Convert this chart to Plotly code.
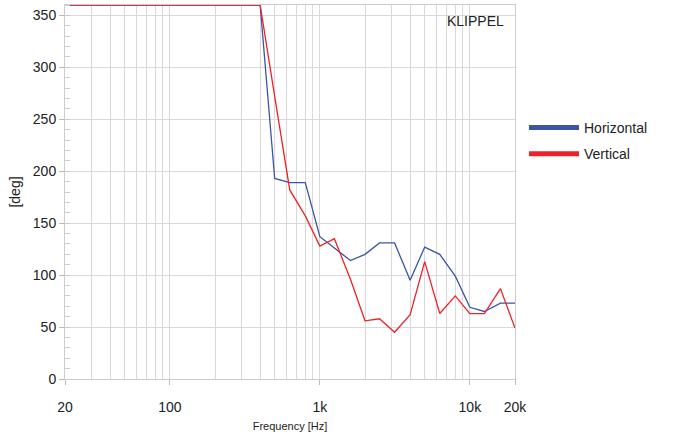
import plotly.graph_objects as go

freq = [20, 25, 31.5, 40, 50, 63, 80, 100, 125, 160, 200, 250, 315, 400,
        500, 630, 800, 1000, 1250, 1600, 2000, 2500, 3150, 4000, 5000,
        6300, 8000, 10000, 12500, 16000, 20000]
horizontal = [360]*14 + [193, 189, 189, 137, 126, 114, 120, 131, 131, 95,
                         127, 120, 99, 69, 65, 73, 73]
vertical = [360]*14 + [272, 182, 157, 128, 135, 96, 56, 58, 45, 62,
                       113, 63, 80, 63, 63, 87, 49]

x_ticks = [20, 100, 1000, 10000, 20000]
x_ticklabels = ["20", "100", "1k", "10k", "20k"]
x_minor = [30, 40, 50, 60, 70, 80, 90, 200, 300, 400, 500, 600, 700, 800, 900,
           2000, 3000, 4000, 5000, 6000, 7000, 8000, 9000]
y_ticks = [0, 50, 100, 150, 200, 250, 300, 350]

blue = "#3B55A6"
red = "#EE2128"
grid = "#D9D9D9"
font = "Liberation Sans, Arial, sans-serif"

fig = go.Figure()
fig.add_trace(go.Scatter(x=freq, y=horizontal, mode="lines", name="Horizontal",
                         line=dict(color=blue, width=1.3), showlegend=False))
fig.add_trace(go.Scatter(x=freq, y=vertical, mode="lines", name="Vertical",
                         line=dict(color=red, width=1.3), showlegend=False))
fig.add_trace(go.Scatter(x=[None], y=[None], mode="lines", name="Horizontal",
                         legendgroup="h", line=dict(color=blue, width=5)))
fig.add_trace(go.Scatter(x=[None], y=[None], mode="lines", name="Vertical",
                         legendgroup="v", line=dict(color=red, width=5)))

fig.update_layout(
    width=673, height=442,
    margin=dict(l=65, r=158, t=5, b=63),
    paper_bgcolor="white", plot_bgcolor="white",
    font=dict(family=font, size=14, color="#222222"),
    legend=dict(x=1.02, y=0.714, xanchor="left", yanchor="top",
                font=dict(size=14, color="#222222"), tracegroupgap=5,
                itemwidth=50, bgcolor="rgba(0,0,0,0)"),
    xaxis=dict(type="log", range=[1.30103, 4.30103],
               tickvals=x_ticks, ticktext=x_ticklabels,
               showgrid=True, gridcolor=grid, gridwidth=1,
               ticks="outside", ticklen=5, tickcolor="#BBBBBB",
               ticklabelstandoff=10,
               showline=True, linecolor="#CCCCCC", mirror=True,
               zeroline=False,
               minor=dict(tickvals=x_minor, showgrid=True, gridcolor=grid,
                          gridwidth=1, ticks=""),
               title=dict(text="Frequency [Hz]", font=dict(size=11), standoff=8)),
    yaxis=dict(range=[0, 360], tickvals=y_ticks,
               showgrid=True, gridcolor=grid, gridwidth=1,
               ticks="outside", ticklen=5, tickcolor="#BBBBBB",
               showline=True, linecolor="#CCCCCC", mirror=True,
               zeroline=False,
               minor=dict(dtick=10, ticks="inside", ticklen=5,
                          tickcolor="#CCCCCC", showgrid=False),
               title=dict(text="[deg]", font=dict(size=14), standoff=8)),
    annotations=[dict(text="KLIPPEL", x=0.98, y=0.985, xref="paper", yref="paper",
                      xanchor="right", yanchor="top", showarrow=False,
                      font=dict(size=14, color="#222222"))],
)

fig.write_html("out.html", config={"displayModeBar": False},
               post_script="document.body.style.margin='0';")
